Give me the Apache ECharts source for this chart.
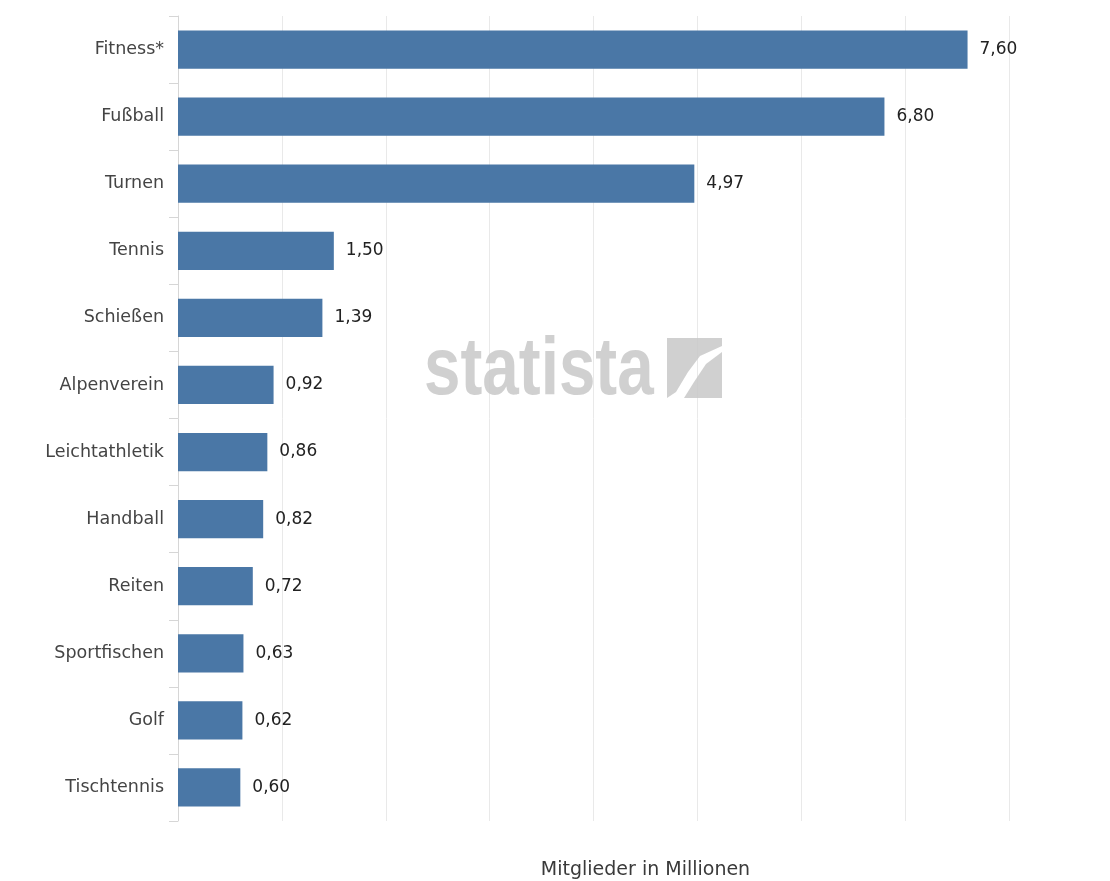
<!DOCTYPE html>
<html>
<head>
<meta charset="utf-8">
<script src="https://cdn.jsdelivr.net/npm/echarts@6/dist/echarts.min.js"></script>
<style>html,body{margin:0;padding:0;background:#fff;}#c{width:1110px;height:881px;}</style>
</head>
<body>
<div id="c"></div>
<script>
const categories = ['Fitness*', 'Fußball', 'Turnen', 'Tennis', 'Schießen', 'Alpenverein', 'Leichtathletik', 'Handball', 'Reiten', 'Sportfischen', 'Golf', 'Tischtennis'];
const values = [7.60, 6.80, 4.97, 1.50, 1.39, 0.92, 0.86, 0.82, 0.72, 0.63, 0.62, 0.60];
const axisTitle = 'Mitglieder in Millionen';
const watermark = 'statista';

const chart = echarts.init(document.getElementById('c'));
chart.setOption({
  backgroundColor: '#ffffff',
  animation: false,
  grid: { left: 178, right: -3, top: 16, bottom: 60, containLabel: false, outerBoundsMode: 'none' },
  xAxis: {
    type: 'value', min: 0, max: 9, interval: 1,
    name: axisTitle, nameLocation: 'middle', nameGap: 40,
    nameTextStyle: { fontFamily: 'DejaVu Sans', fontSize: 19, color: '#3a3a3a' },
    axisLine: { show: false }, axisTick: { show: false }, axisLabel: { show: false },
    splitLine: { show: true, lineStyle: { color: '#e9e9e9', width: 1 } }
  },
  yAxis: {
    type: 'category', data: categories, inverse: true,
    axisLine: { show: true, lineStyle: { color: '#d6d6d6', width: 1 } },
    axisTick: { show: true, length: 9, lineStyle: { color: '#d6d6d6' } },
    axisLabel: { fontFamily: 'DejaVu Sans', fontSize: 17.5, color: '#444', margin: 14 },
    splitLine: { show: false }
  },
  series: [{
    type: 'bar', data: values, barWidth: '57%',
    itemStyle: { color: '#4a77a6' },
    label: {
      show: true, position: 'right', distance: 12,
      fontFamily: 'DejaVu Sans', fontSize: 17, color: '#222',
      formatter: p => p.value.toFixed(2).replace('.', ',')
    }
  }],
  graphic: [
    { type: 'text', x: 424, y: 330, scaleX: 0.8, z: 100, silent: true,
      style: { text: watermark, font: 'bold 82px "Liberation Sans", sans-serif', fill: 'rgba(200,200,200,0.85)' } },
    { type: 'polygon', z: 100, silent: true,
      shape: { points: [[667,338],[722,338],[722,346],[700,356],[688,372],[676,392],[667,398]] },
      style: { fill: 'rgba(200,200,200,0.85)' } },
    { type: 'polygon', z: 100, silent: true,
      shape: { points: [[722,352],[722,398],[684,398],[694,382],[706,364]] },
      style: { fill: 'rgba(200,200,200,0.85)' } }
  ]
});
</script>
</body>
</html>
